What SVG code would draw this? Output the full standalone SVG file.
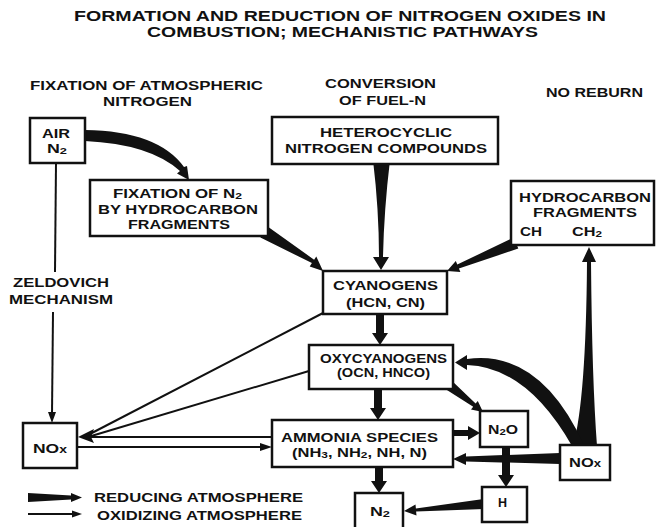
<svg xmlns="http://www.w3.org/2000/svg" width="656" height="527" viewBox="0 0 656 527">
<style>
text{font-family:"Liberation Sans",Arial,sans-serif;font-weight:bold;fill:#111}
.t{font-size:14.5px}
.h{font-size:13.5px}
.b{font-size:12.5px}
.s{font-size:9px}
.box{fill:#fff;stroke:#111;stroke-width:2.5}
.ox{stroke:#111;stroke-width:2;fill:none}
.rd{fill:#111;stroke:none}
</style>
<rect width="656" height="527" fill="#fff"/>
<g id="title">
<text class="t" x="74" y="21" textLength="532" lengthAdjust="spacingAndGlyphs">FORMATION AND REDUCTION OF NITROGEN OXIDES IN</text>
<text class="t" x="147" y="37" textLength="391" lengthAdjust="spacingAndGlyphs">COMBUSTION; MECHANISTIC PATHWAYS</text>
</g>
<g id="headers">
<text class="h" x="30" y="90" textLength="233" lengthAdjust="spacingAndGlyphs">FIXATION OF ATMOSPHERIC</text>
<text class="h" x="103" y="106" textLength="89" lengthAdjust="spacingAndGlyphs">NITROGEN</text>
<text class="h" x="325" y="88" textLength="111" lengthAdjust="spacingAndGlyphs">CONVERSION</text>
<text class="h" x="339" y="105" textLength="87" lengthAdjust="spacingAndGlyphs">OF FUEL-N</text>
<text class="h" x="546" y="97" textLength="97" lengthAdjust="spacingAndGlyphs">NO REBURN</text>
</g>
<g id="connectors">
<path class="rd" d="M85,130 Q158,131 184,167 L187,166 L189,180 L177,173.5 L180,171 Q150,144 85,141 Z"/>
<path class="rd" d="M373,160 Q379,210 379,257 L373,257 L381,270 L389,257 L383,257 Q384,210 390,160 Z"/>
<path class="rd" d="M267.6,226.6 L314.1,259.7 L316.3,256.4 L323,271 L309.7,266.4 L311.9,263.1 L260.4,237.4 Z"/>
<path class="rd" d="M513.7,237.4 L457.3,264.6 L455.8,260.9 L447,271 L460.4,272.1 L458.9,268.4 L518.3,248.6 Z"/>
<path class="rd" d="M376,314 L384,314 L384,333 L388,333 L380,345 L372,333 L376,333 Z"/>
<path class="rd" d="M374,389 L382,389 L382,408 L386,408 L378,420 L370,408 L374,408 Z"/>
<path class="rd" d="M375,467 L383,467 L383,481 L387,481 L379,493 L371,481 L375,481 Z"/>
<path class="rd" d="M453,430 L468,430 L468,426 L480,433 L468,440 L468,436 L453,436 Z"/>
<path class="rd" d="M502,447 L510,447 L510,475 L514,475 L506,487 L498,475 L502,475 Z"/>
<path class="rd" d="M453.1,382.1 L475.6,403.6 L477.8,400.9 L483,412 L471,409.5 L473.2,406.8 L446.9,389.9 Z"/>
<path class="rd" d="M560,453 L466,456.5 L466,453 L453,459 L466,465 L466,461.5 L560,464 Z"/>
<path class="rd" d="M573,446 Q586,400 587,262 L582,262 L589,247 L596,262 L591,262 Q592,380 597,446 Z"/>
<path class="rd" d="M584,445 Q540,349 467,359 L467,355 L455,362.5 L467,370 L467,365 Q527,367 572,446 Z"/>
<path class="rd" d="M483.6,499 L415.9,508.5 L415.5,504.5 L404,511 L416.5,515.5 L416.1,511.5 L484.4,509 Z"/>
<line class="ox" x1="56" y1="163" x2="55" y2="272"/>
<line class="ox" x1="53" y1="312" x2="52" y2="414"/>
<polygon class="rd" points="48,412 56,412 52,423"/>
<line class="ox" x1="323" y1="313" x2="88" y2="435"/>
<line class="ox" x1="309" y1="371" x2="88" y2="437"/>
<line class="ox" x1="272" y1="437" x2="88" y2="437"/>
<polygon class="rd" points="78,437 94,429 91,437 94,443"/>
<line class="ox" x1="77" y1="447" x2="262" y2="447"/>
<polygon class="rd" points="272,447 260,443 260,451"/>
</g>
<g id="air">
<rect class="box" x="30" y="118" width="55" height="45"/>
<text class="b" x="42" y="138" textLength="28" lengthAdjust="spacingAndGlyphs">AIR</text>
<text class="b" x="47" y="153" textLength="20" lengthAdjust="spacingAndGlyphs">N<tspan class="s" dy="1">2</tspan></text>
</g>
<g id="fixation">
<rect class="box" x="90" y="180" width="178" height="56"/>
<text class="b" x="113" y="198" textLength="129" lengthAdjust="spacingAndGlyphs">FIXATION OF N<tspan class="s" dy="1">2</tspan></text>
<text class="b" x="98" y="214" textLength="160" lengthAdjust="spacingAndGlyphs">BY HYDROCARBON</text>
<text class="b" x="128" y="229" textLength="102" lengthAdjust="spacingAndGlyphs">FRAGMENTS</text>
</g>
<g id="heterocyclic">
<rect class="box" x="272" y="117" width="226" height="47"/>
<text class="b" x="320" y="137" textLength="132" lengthAdjust="spacingAndGlyphs">HETEROCYCLIC</text>
<text class="b" x="285" y="153" textLength="202" lengthAdjust="spacingAndGlyphs">NITROGEN COMPOUNDS</text>
</g>
<g id="hydrocarbon">
<rect class="box" x="511" y="181" width="143" height="64"/>
<text class="b" x="519" y="202" textLength="132" lengthAdjust="spacingAndGlyphs">HYDROCARBON</text>
<text class="b" x="533" y="217" textLength="104" lengthAdjust="spacingAndGlyphs">FRAGMENTS</text>
<text class="b" x="520" y="236" textLength="22" lengthAdjust="spacingAndGlyphs">CH</text>
<text class="b" x="572" y="236" textLength="30" lengthAdjust="spacingAndGlyphs">CH<tspan class="s" dy="1">2</tspan></text>
</g>
<g id="cyanogens">
<rect class="box" x="323" y="271" width="124" height="43"/>
<text class="b" x="333" y="290" textLength="105" lengthAdjust="spacingAndGlyphs">CYANOGENS</text>
<text class="b" x="346" y="307" textLength="79" lengthAdjust="spacingAndGlyphs">(HCN, CN)</text>
</g>
<g id="oxycyanogens">
<rect class="box" x="309" y="345" width="144" height="44"/>
<text class="b" x="320" y="363" textLength="127" lengthAdjust="spacingAndGlyphs">OXYCYANOGENS</text>
<text class="b" x="337" y="377" textLength="93" lengthAdjust="spacingAndGlyphs">(OCN, HNCO)</text>
</g>
<g id="ammonia">
<rect class="box" x="272" y="420" width="181" height="47"/>
<text class="b" x="281" y="442" textLength="157" lengthAdjust="spacingAndGlyphs">AMMONIA SPECIES</text>
<text class="b" x="292" y="457" textLength="135" lengthAdjust="spacingAndGlyphs">(NH<tspan class="s" dy="1">3</tspan><tspan dy="-1">, NH</tspan><tspan class="s" dy="1">2</tspan><tspan dy="-1">, NH, N)</tspan></text>
</g>
<g id="n2o">
<rect class="box" x="480" y="411" width="48" height="36"/>
<text class="b" x="488" y="434" textLength="30" lengthAdjust="spacingAndGlyphs">N<tspan class="s" dy="1">2</tspan><tspan dy="-1">O</tspan></text>
</g>
<g id="nox-right">
<rect class="box" x="560" y="445" width="50" height="35"/>
<text class="b" x="569" y="467" textLength="32" lengthAdjust="spacingAndGlyphs">NO<tspan font-size="10">x</tspan></text>
</g>
<g id="nox-left">
<rect class="box" x="23" y="423" width="54" height="45"/>
<text class="b" x="33" y="453" textLength="34" lengthAdjust="spacingAndGlyphs">NO<tspan font-size="10">x</tspan></text>
</g>
<g id="h">
<rect class="box" x="482" y="487" width="45" height="35"/>
<text class="b" x="498" y="507">H</text>
</g>
<g id="n2">
<rect class="box" x="355" y="493" width="48" height="40"/>
<text class="b" x="370" y="516" textLength="20" lengthAdjust="spacingAndGlyphs">N<tspan class="s" dy="1">2</tspan></text>
</g>
<g id="zeldovich">
<text class="b" x="13" y="287" textLength="96" lengthAdjust="spacingAndGlyphs">ZELDOVICH</text>
<text class="b" x="9" y="304" textLength="104" lengthAdjust="spacingAndGlyphs">MECHANISM</text>
</g>
<g id="legend">
<path class="rd" d="M28,493 L71,495.5 L71,493 L82,497.5 L71,502 L71,499.5 L28,502 Z"/>
<line class="ox" x1="28" y1="514" x2="74" y2="514"/>
<polygon class="rd" points="82,514 72,510.5 72,517.5"/>
<text class="b" x="94" y="502" textLength="209" lengthAdjust="spacingAndGlyphs">REDUCING ATMOSPHERE</text>
<text class="b" x="97" y="520" textLength="205" lengthAdjust="spacingAndGlyphs">OXIDIZING ATMOSPHERE</text>
</g>
</svg>
